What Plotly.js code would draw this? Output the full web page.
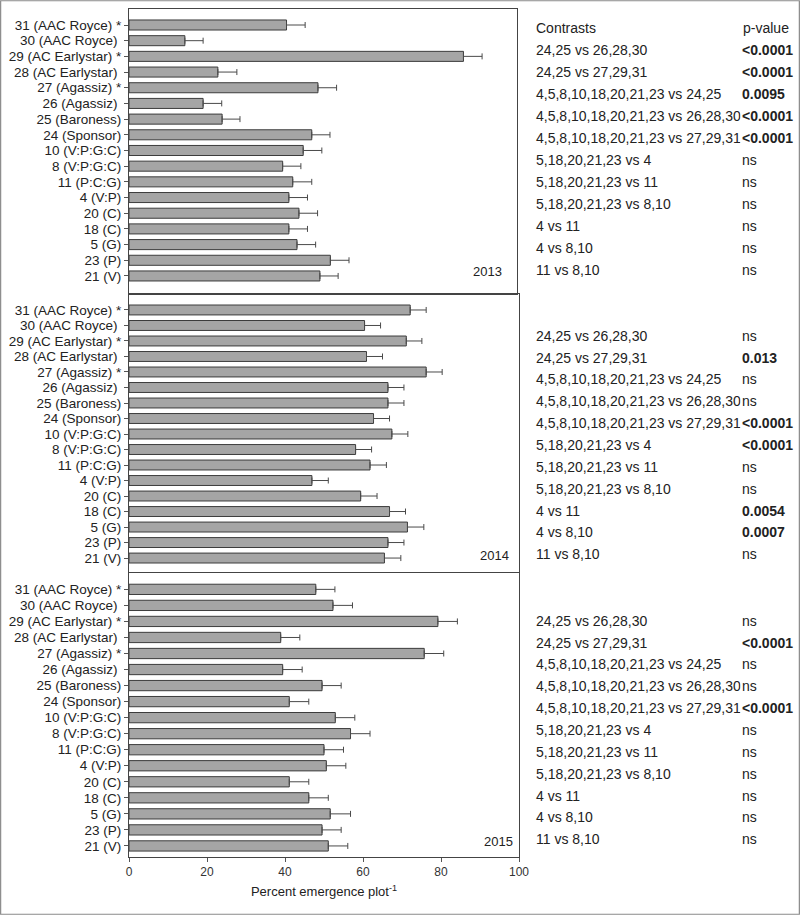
<!DOCTYPE html>
<html><head><meta charset="utf-8">
<script src="https://cdn.plot.ly/plotly-3.0.1.min.js"></script>
<style>body{margin:0;background:#fff}#chart{width:800px;height:915px}</style>
</head><body><div id="chart"></div>
<script>
// ---- data ----
const categories = ["31 (AAC Royce) *","30 (AAC Royce)\u00a0","29 (AC Earlystar) *","28 (AC Earlystar)\u00a0","27 (Agassiz) *","26 (Agassiz)\u00a0","25 (Baroness)","24 (Sponsor)","10 (V:P:G:C)","8 (V:P:G:C)","11 (P:C:G)","4 (V:P)","20 (C)","18 (C)","5 (G)","23 (P)","21 (V)"];
const years = ["2013","2014","2015"];
const mean2013 = [40.6,14.4,86.2,22.9,48.7,19.1,24.0,47.1,44.9,39.6,42.2,41.2,43.8,41.2,43.3,51.9,49.2];
const err2013  = [4.8,4.7,4.8,4.9,4.8,4.8,4.6,4.7,4.8,4.7,4.9,4.8,4.8,4.8,4.8,4.8,4.7];
const mean2014 = [72.1,60.4,71.1,60.9,76.2,66.4,66.4,62.7,67.4,58.1,61.8,46.9,59.4,66.8,71.4,66.4,65.5];
const err2014  = [4.1,4.1,4.0,4.1,4.1,4.1,4.1,4.1,4.1,4.1,4.2,4.2,4.2,4.1,4.2,4.1,4.2];
const mean2015 = [47.9,52.3,79.2,38.9,75.7,39.4,49.5,41.1,52.9,56.8,50.0,50.6,41.1,46.1,51.6,49.5,51.1];
const err2015  = [4.9,5.0,5.0,4.9,5.0,5.0,4.9,5.0,5.0,5.0,5.0,5.0,5.0,5.0,5.2,4.9,5.0];
const xTicks = [0,20,40,60,80,100];
const contrasts = ["24,25 vs 26,28,30","24,25 vs 27,29,31","4,5,8,10,18,20,21,23 vs 24,25","4,5,8,10,18,20,21,23 vs 26,28,30","4,5,8,10,18,20,21,23 vs 27,29,31","5,18,20,21,23 vs 4","5,18,20,21,23 vs 11","5,18,20,21,23 vs 8,10","4 vs 11","4 vs 8,10","11 vs 8,10"];
const p2013 = ["<0.0001","<0.0001","0.0095","<0.0001","<0.0001","ns","ns","ns","ns","ns","ns"];
const p2014 = ["ns","0.013","ns","ns","<0.0001","<0.0001","ns","ns","0.0054","0.0007","ns"];
const p2015 = ["ns","<0.0001","ns","ns","<0.0001","ns","ns","ns","ns","ns","ns"];
const tableHeader = ["Contrasts","p-value"];
const xTitle = "Percent emergence plot<sup>-1</sup>";

// ---- layout helpers (pixel -> paper) ----
const W = 800, H = 915;
const px = v => v / W;
const py = v => 1 - v / H;
const FONT = "Liberation Sans, Arial, sans-serif";

const means = [mean2013, mean2014, mean2015];
const errs = [err2013, err2014, err2015];
const panels = [
  {top: 9,   bot: 294, right: 517, range: [17.15, -1.02], yearX: 487, yearY: 272, rowY0: 50,    rowDy: 22.0, header: 28.3, pv: p2013},
  {top: 294, bot: 572, right: 519, range: [16.9, -1.03],  yearX: 494, yearY: 555, rowY0: 335.7, rowDy: 21.86, header: null, pv: p2014},
  {top: 573, bot: 857, right: 519, range: [16.69, -1.02], yearX: 498, yearY: 841, rowY0: 620.7, rowDy: 21.86, header: null, pv: p2015}
];

const traces = [];
const layout = {
  width: W, height: H,
  margin: {l: 0, r: 0, t: 0, b: 0},
  paper_bgcolor: "#fff", plot_bgcolor: "#fff",
  showlegend: false,
  bargap: 0.36,
  font: {family: FONT, color: "#222"},
  annotations: [],
  shapes: [
    {type: "rect", xref: "paper", yref: "paper", x0: 0.0008, x1: 0.9992, y0: 0.0008, y1: 0.9992,
     line: {color: "#8a8a8a", width: 1.2}}
  ]
};

panels.forEach((p, i) => {
  const n = i === 0 ? "" : String(i + 1);
  traces.push({
    type: "bar", orientation: "h",
    y: categories, x: means[i],
    xaxis: "x" + n, yaxis: "y" + n,
    marker: {color: "#a5a5a5", line: {color: "#3c3c3c", width: 1}},
    error_x: {type: "data", symmetric: false, array: errs[i], arrayminus: errs[i].map(() => 0),
              color: "#4a4a4a", thickness: 1, width: 3},
    hoverinfo: "skip"
  });
  const isBottom = i === 2;
  const xa = {
    domain: [px(129), px(p.right)], anchor: "y" + n,
    range: [0, 100], tickmode: "array", tickvals: xTicks, ticktext: xTicks.map(String),
    showticklabels: isBottom, ticks: isBottom ? "outside" : "", ticklen: 4, tickcolor: "#555",
    tickfont: {size: 12, color: "#333"},
    showgrid: false, zeroline: false,
    showline: true, mirror: true, linecolor: "#444", linewidth: 1
  };
  if (isBottom) xa.title = {text: xTitle, font: {size: 13, color: "#222"}, standoff: 8};
  layout["xaxis" + n] = xa;
  layout["yaxis" + n] = {
    domain: [py(p.bot), py(p.top)], anchor: "x" + n,
    type: "category", range: p.range,
    tickmode: "array", tickvals: categories, ticktext: categories,
    ticks: "outside", ticklen: 4, tickcolor: "#555",
    tickfont: {size: 13.5, color: "#222"},
    showgrid: false, zeroline: false,
    showline: true, mirror: true, linecolor: "#444", linewidth: 1
  };
  // year label
  layout.annotations.push({xref: "paper", yref: "paper", x: px(p.yearX), y: py(p.yearY),
    text: years[i], showarrow: false, xanchor: "center", yanchor: "middle",
    font: {size: 13, color: "#222"}});
  // table header
  if (p.header !== null) {
    layout.annotations.push({xref: "paper", yref: "paper", x: px(534), y: py(p.header),
      text: tableHeader[0], showarrow: false, xanchor: "left", yanchor: "middle",
      font: {size: 14, color: "#222"}});
    layout.annotations.push({xref: "paper", yref: "paper", x: px(741), y: py(p.header),
      text: tableHeader[1], showarrow: false, xanchor: "left", yanchor: "middle",
      font: {size: 14, color: "#222"}});
  }
  contrasts.forEach((c, k) => {
    layout.annotations.push({xref: "paper", yref: "paper", x: px(534), y: py(p.rowY0 + k * p.rowDy),
      text: c, showarrow: false, xanchor: "left", yanchor: "middle",
      font: {size: 14, color: "#222"}});
  });
  contrasts.forEach((c, k) => {
    const v = p.pv[k];
    layout.annotations.push({xref: "paper", yref: "paper", x: px(740), y: py(p.rowY0 + k * p.rowDy),
      text: v === "ns" ? v : "<b>" + v.replace("<", "&lt;") + "</b>", showarrow: false,
      xanchor: "left", yanchor: "middle", bgcolor: "#fff", borderpad: 1,
      font: {size: 14, color: "#222"}});
  });
});

Plotly.newPlot("chart", traces, layout, {staticPlot: true, displayModeBar: false});
</script>
</body></html>
